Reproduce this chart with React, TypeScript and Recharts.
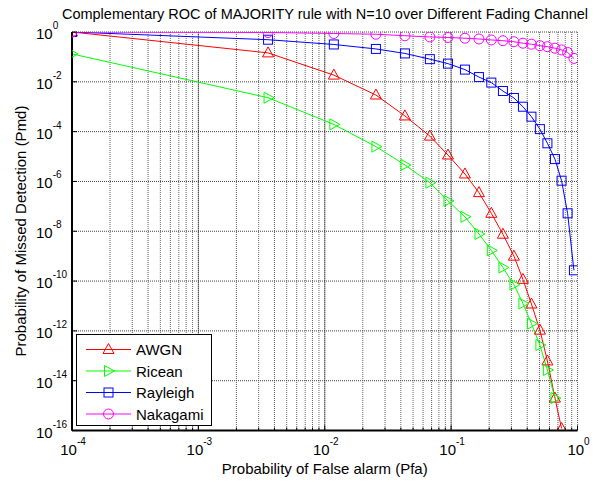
import React from 'react';
import { LineChart, Line, XAxis, YAxis, CartesianGrid, ReferenceLine, Legend } from 'recharts';

// Probability of false alarm (shared x values)
const pfa = [1e-4, 0.00356, 0.0118, 0.0254, 0.0431, 0.0679, 0.0944, 0.1286, 0.166, 0.208, 0.257, 0.314, 0.37, 0.432, 0.504, 0.578, 0.663, 0.748, 0.835, 0.937];

// Probability of missed detection per channel
const awgn = [1, 1.45e-1, 1.86e-2, 2.95e-3, 4.27e-4, 6.6e-5, 1.15e-5, 2.0e-6, 3.55e-7, 5.25e-8, 7.6e-9, 1.0e-9, 1.17e-10, 1.2e-11, 1.07e-12, 6.2e-14, 2.0e-15, 1.2e-16];
const ricean = [1.32e-1, 2.3e-3, 1.95e-4, 2.5e-5, 4.6e-6, 8.9e-7, 1.66e-7, 3.8e-8, 7.8e-9, 1.7e-9, 3.5e-10, 7.2e-11, 1.26e-11, 1.95e-12, 2.7e-13, 2.7e-14, 2.0e-15];
const rayleigh = [1, 0.49, 0.316, 0.209, 0.138, 0.0813, 0.0537, 0.0309, 0.0155, 0.0093, 0.00427, 0.00224, 1.0e-3, 3.98e-4, 1.26e-4, 3.4e-5, 7.9e-6, 1.07e-6, 5.25e-8, 2.7e-10];
const nakagami = [1, 0.955, 0.871, 0.813, 0.708, 0.631, 0.603, 0.562, 0.525, 0.479, 0.447, 0.407, 0.355, 0.324, 0.282, 0.257, 0.224, 0.191, 0.151, 0.087];

// Ticks
const xMajorTicks = [1e-4, 1e-3, 1e-2, 1e-1, 1];
const xTickExponents = ['-4', '-3', '-2', '-1', '0'];
const minorMultipliers = [2, 3, 4, 5, 6, 7, 8, 9];
const xMinorTicks = xMajorTicks.slice(0, -1).flatMap((d) => minorMultipliers.map((m) => m * d));
const xAllTicks = [...xMajorTicks, ...xMinorTicks].sort((a, b) => a - b);
const yTicks = [1e-16, 1e-14, 1e-12, 1e-10, 1e-8, 1e-6, 1e-4, 1e-2, 1];
const yTickExponents = ['-16', '-14', '-12', '-10', '-8', '-6', '-4', '-2', '0'];

const series = [
  { key: 'awgn', name: 'AWGN', values: awgn, color: '#FF0000', marker: 'triUp' },
  { key: 'ricean', name: 'Ricean', values: ricean, color: '#00FF00', marker: 'triRight' },
  { key: 'rayleigh', name: 'Rayleigh', values: rayleigh, color: '#0000FF', marker: 'square' },
  { key: 'nakagami', name: 'Nakagami', values: nakagami, color: '#FF00FF', marker: 'circle' },
];

const data = pfa.map((p, i) => {
  const row: any = { pfa: p };
  series.forEach((s) => {
    row[s.key] = i < s.values.length ? s.values[i] : null;
  });
  return row;
});

const FONT = '"Liberation Sans", Arial, Helvetica, sans-serif';

const isMajor = (v: number) => {
  const l = Math.log10(v);
  return Math.abs(l - Math.round(l)) < 1e-9;
};

const markerShape = (type: string, cx: number, cy: number, color: string, key?: any) => {
  const common = { fill: 'none', stroke: color, strokeWidth: 1 };
  switch (type) {
    case 'triUp':
      return <polygon key={key} points={`${cx},${cy - 6} ${cx - 5.5},${cy + 4} ${cx + 5.5},${cy + 4}`} {...common} />;
    case 'triRight':
      return <polygon key={key} points={`${cx - 4},${cy - 5.5} ${cx - 4},${cy + 5.5} ${cx + 6},${cy}`} {...common} />;
    case 'square':
      return <rect key={key} x={cx - 4.5} y={cy - 4.5} width={9} height={9} {...common} />;
    default:
      return <circle key={key} cx={cx} cy={cy} r={5} {...common} />;
  }
};

const makeDot = (type: string, color: string) => (props: any) => {
  const { cx, cy, index } = props;
  if (cx == null || cy == null || isNaN(cx) || isNaN(cy)) return <g key={`d-${index}`} />;
  return markerShape(type, cx, cy, color, `d-${index}`);
};

const BottomTick = (props: any) => {
  const { x, y, payload } = props;
  const v = payload.value;
  const major = isMajor(v);
  const idx = xMajorTicks.findIndex((t) => Math.abs(Math.log10(t) - Math.log10(v)) < 1e-9);
  return (
    <g>
      <line x1={x} y1={y} x2={x} y2={y - (major ? 5 : 3)} stroke="#000" strokeWidth={1} />
      {major && idx >= 0 && (
        <text x={x + 1} y={y + 24} textAnchor="middle" fontFamily={FONT} fontSize={15} fill="#000">
          <tspan>10</tspan>
          <tspan dy={-10} fontSize={10}>{xTickExponents[idx]}</tspan>
        </text>
      )}
    </g>
  );
};

const TopTick = (props: any) => {
  const { x, y, payload } = props;
  const major = isMajor(payload.value);
  return <line x1={x} y1={y} x2={x} y2={y + (major ? 5 : 3)} stroke="#000" strokeWidth={1} />;
};

const LeftTick = (props: any) => {
  const { x, y, payload } = props;
  const idx = yTicks.findIndex((t) => Math.abs(Math.log10(t) - Math.log10(payload.value)) < 1e-9);
  return (
    <g>
      <line x1={x} y1={y} x2={x + 5} y2={y} stroke="#000" strokeWidth={1} />
      <text x={36} y={y + 7} textAnchor="start" fontFamily={FONT} fontSize={15} fill="#000">
        <tspan>10</tspan>
        <tspan dy={-10} fontSize={10}>{idx >= 0 ? yTickExponents[idx] : ''}</tspan>
      </text>
    </g>
  );
};

const RightTick = (props: any) => {
  const { x, y } = props;
  return <line x1={x} y1={y} x2={x - 5} y2={y} stroke="#000" strokeWidth={1} />;
};

const LegendContent = () => (
  <div
    style={{
      width: 136,
      height: 92,
      border: '1.5px solid #000',
      background: '#fff',
      boxSizing: 'border-box',
      position: 'relative',
    }}
  >
    <svg width={136} height={92} style={{ position: 'absolute', left: -1.5, top: -1.5 }}>
      {series.map((s, i) => {
        const cy = 15.5 + i * 21.5;
        return (
          <g key={s.key}>
            <line x1={10} y1={cy} x2={55} y2={cy} stroke={s.color} strokeWidth={1} />
            {markerShape(s.marker, 32.5, cy, s.color)}
            <text x={60} y={cy + 5.5} fontFamily={FONT} fontSize={15} fill="#000">
              {s.name}
            </text>
          </g>
        );
      })}
    </svg>
  </div>
);

export default function App() {
  return (
    <div style={{ position: 'absolute', left: 0, top: 0, width: 595, height: 483, background: '#fff' }}>
      <LineChart
        width={595}
        height={483}
        data={data}
        margin={{ top: 32, right: 17.5, bottom: 0, left: 0 }}
      >
        <CartesianGrid
          xAxisId="b"
          yAxisId="l"
          horizontal={false}
          vertical={true}
          stroke="#666"
          strokeDasharray="1 1"
        />
        <CartesianGrid
          xAxisId="b"
          yAxisId="l"
          horizontal={true}
          vertical={false}
          stroke="#444"
          strokeDasharray="1 1"
        />
        {xMajorTicks.slice(1, -1).map((t) => (
          <ReferenceLine key={`xm-${t}`} x={t} xAxisId="b" yAxisId="l" stroke="#222" strokeDasharray="1 1" />
        ))}
        <XAxis
          xAxisId="b"
          dataKey="pfa"
          type="number"
          scale="log"
          domain={[1e-4, 1]}
          ticks={xAllTicks}
          interval={0}
          allowDataOverflow
          height={52.5}
          tickSize={0}
          tickMargin={0}
          tickLine={false}
          axisLine={{ stroke: '#000', strokeWidth: 2 }}
          tick={<BottomTick />}
          label={{ value: 'Probability of False alarm (Pfa)', position: 'insideBottom', offset: 9, fontFamily: FONT, fontSize: 15, fill: '#000' }}
        />
        <XAxis
          xAxisId="t"
          dataKey="pfa"
          orientation="top"
          type="number"
          scale="log"
          domain={[1e-4, 1]}
          ticks={xAllTicks}
          interval={0}
          allowDataOverflow
          height={0}
          tickSize={0}
          tickMargin={0}
          tickLine={false}
          axisLine={{ stroke: '#000', strokeWidth: 2 }}
          tick={<TopTick />}
        />
        <YAxis
          yAxisId="l"
          type="number"
          scale="log"
          domain={[1e-16, 1]}
          ticks={yTicks}
          interval={0}
          allowDataOverflow
          width={72}
          tickSize={0}
          tickMargin={0}
          tickLine={false}
          axisLine={{ stroke: '#000', strokeWidth: 2 }}
          tick={<LeftTick />}
        />
        <YAxis
          yAxisId="r"
          orientation="right"
          type="number"
          scale="log"
          domain={[1e-16, 1]}
          ticks={yTicks}
          interval={0}
          allowDataOverflow
          width={0}
          tickSize={0}
          tickMargin={0}
          tickLine={false}
          axisLine={{ stroke: '#000', strokeWidth: 2 }}
          tick={<RightTick />}
        />
        {series.map((s) => (
          <Line
            key={s.key}
            xAxisId="b"
            yAxisId="l"
            type="linear"
            dataKey={s.key}
            name={s.name}
            stroke={s.color}
            strokeWidth={1}
            dot={makeDot(s.marker, s.color)}
            activeDot={false}
            isAnimationActive={false}
            connectNulls={false}
          />
        ))}
        <Legend
          layout="horizontal"
          verticalAlign="middle"
          align="center"
          content={<LegendContent />}
          wrapperStyle={{ position: 'absolute', left: 76, top: 334, width: 136, height: 92 }}
        />
        <text x={325} y={19} textAnchor="middle" fontFamily={FONT} fontSize={14.5} fill="#000">
          Complementary ROC of MAJORITY rule with N=10 over Different Fading Channel
        </text>
        <text
          x={20}
          y={231}
          textAnchor="middle"
          dominantBaseline="central"
          transform="rotate(-90 20 231)"
          fontFamily={FONT}
          fontSize={15}
          fill="#000"
        >
          Probability of Missed Detection (Pmd)
        </text>
      </LineChart>
    </div>
  );
}
